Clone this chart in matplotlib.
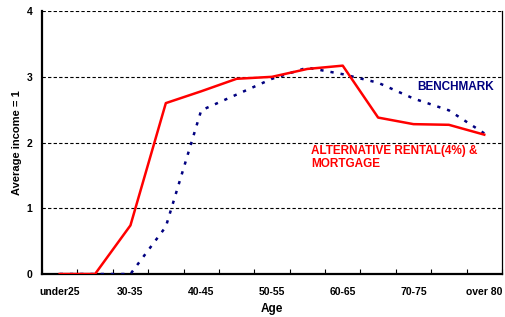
import matplotlib
matplotlib.use("Agg")
import matplotlib.pyplot as plt
import numpy as np

plt.rcParams['font.family'] = ['Liberation Sans', 'DejaVu Sans']

# age groups (13 categories, every other one labelled)
ages = ["under25", "25-30", "30-35", "35-40", "40-45", "45-50", "50-55",
        "55-60", "60-65", "65-70", "70-75", "75-80", "over 80"]
alternative = [0, 0, 0.74, 2.6, 2.78, 2.97, 3.0, 3.12, 3.17, 2.38, 2.28, 2.27, 2.12]
benchmark = [0, 0, 0, 0.72, 2.49, 2.73, 2.97, 3.14, 3.04, 2.91, 2.67, 2.49, 2.14]

x = np.arange(len(ages))

fig = plt.figure(figsize=(5.06, 3.17), dpi=100)
ax = fig.add_axes([0.083, 0.1356, 0.909, 0.8294])

ax.plot(x, benchmark, color="#000080", lw=1.8, linestyle=(0, (1.3, 2.8)), zorder=3)
ax.plot(x, alternative, color="#ff0000", lw=1.8, zorder=4)

ax.set_xlim(-0.5, len(ages) - 0.5)
ax.set_ylim(0, 4)

# dashed grid lines
for yy in [1, 2, 3, 4]:
    ax.axhline(yy, color="black", lw=0.8, linestyle=(0, (3, 2)), zorder=1)

ax.set_yticks([0, 1, 2, 3, 4])
ax.set_xticks(x[::2])
ax.set_xticklabels(ages[::2])
ax.set_xticks(np.arange(-0.5, len(ages), 1), minor=True)
ax.tick_params(axis="x", which="major", length=0, pad=9)
ax.tick_params(axis="x", which="minor", direction="in", length=3.5, width=0.8)
ax.tick_params(axis="y", length=0, pad=7)
for lab in ax.get_xticklabels() + ax.get_yticklabels():
    lab.set_fontweight("bold")
    lab.set_fontsize(7.5)

ax.spines["top"].set_visible(False)
ax.spines["left"].set_linewidth(1.6)
ax.spines["bottom"].set_linewidth(1.6)
ax.spines["right"].set_linewidth(0.9)

ax.set_xlabel("Age", fontsize=8.5, fontweight="bold", labelpad=4.5)
ax.set_ylabel("Average income = 1", fontsize=8, fontweight="bold", labelpad=3)

ax.text(10.12, 2.84, "BENCHMARK", color="#000080", fontsize=8.5, fontweight="bold",
        va="center", ha="left")
ax.text(7.1, 1.77, "ALTERNATIVE RENTAL(4%) &\nMORTGAGE", color="#ff0000",
        fontsize=8.5, fontweight="bold", va="center", ha="left", linespacing=1.1)

fig.savefig("out.png", dpi=100)
